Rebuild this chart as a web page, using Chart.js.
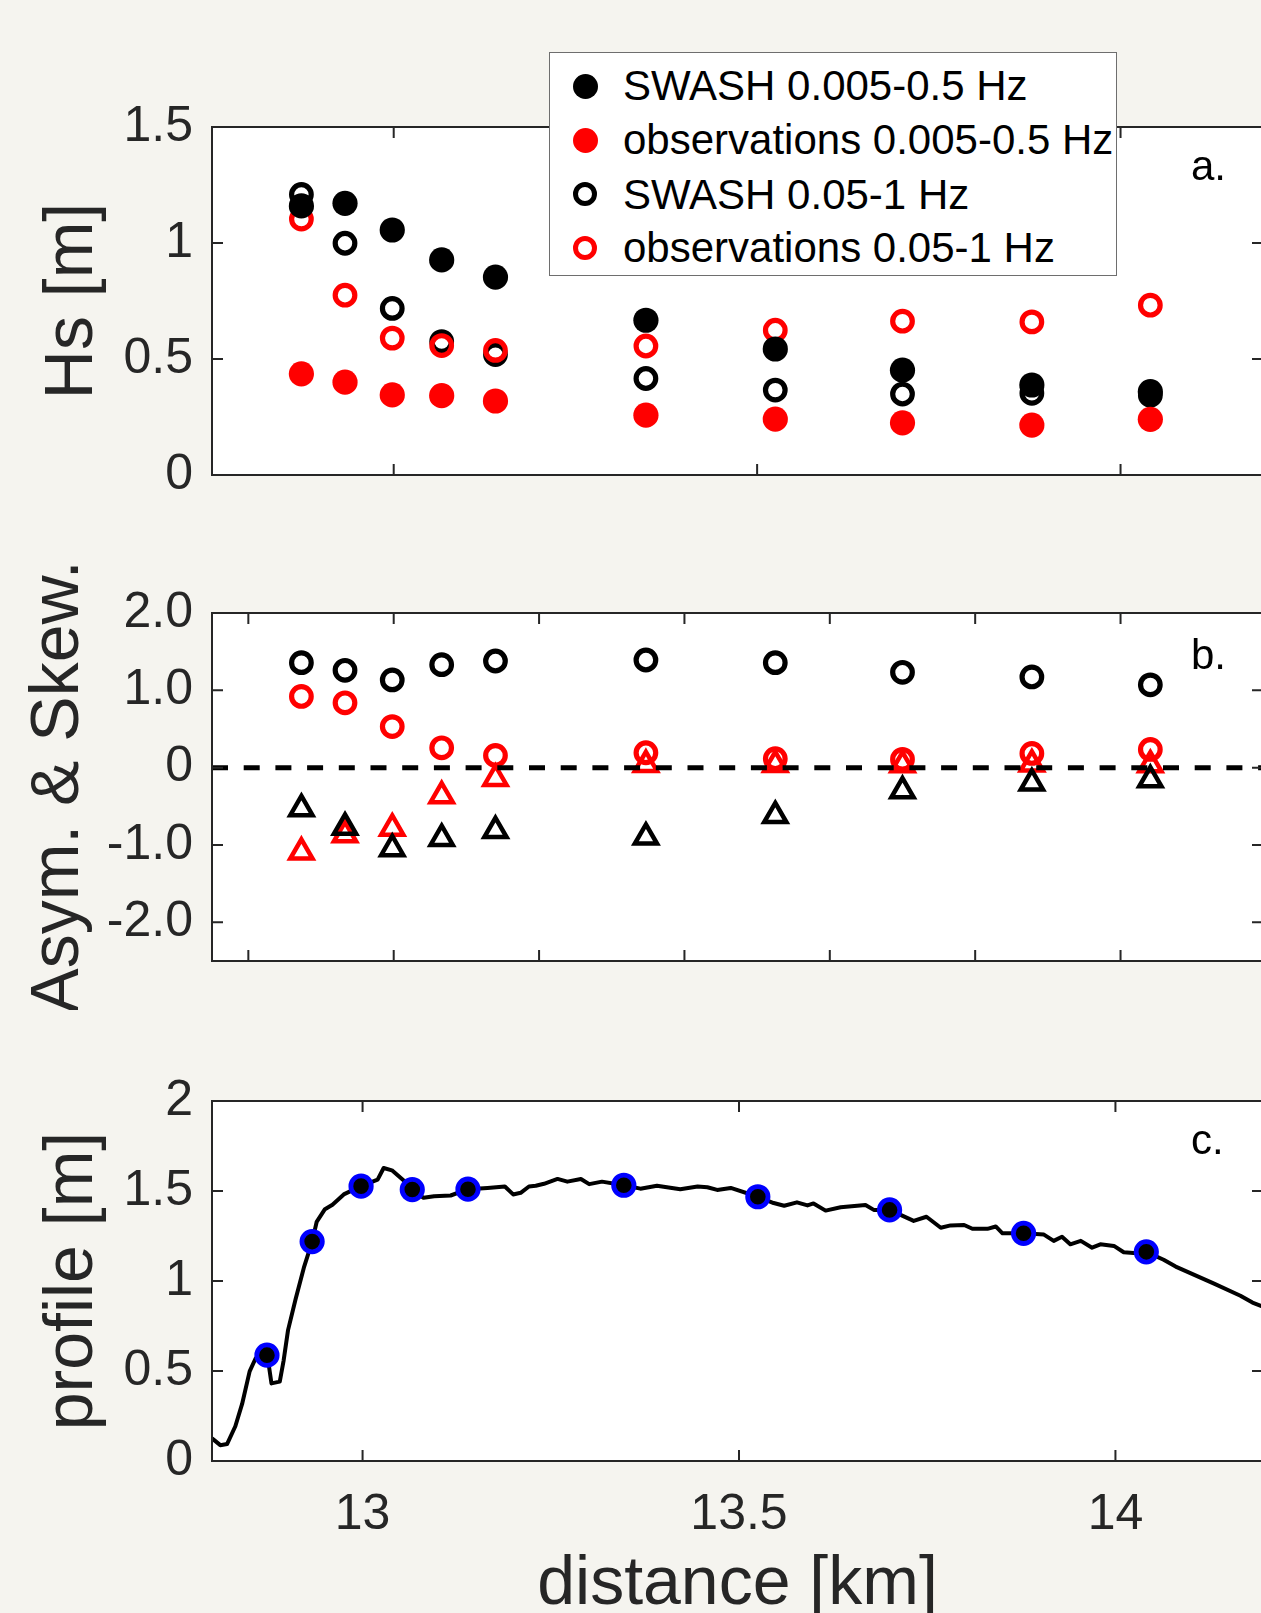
<!DOCTYPE html>
<html>
<head>
<meta charset="utf-8">
<title>SWASH vs observations</title>
<script src="https://cdn.jsdelivr.net/npm/chart.js@4.4.1/dist/chart.umd.min.js"></script>
<style>
  html, body { margin: 0; padding: 0; background: #f5f4ef; overflow: hidden; }
  #page { position: relative; width: 1261px; height: 1613px; overflow: hidden; }
  #page canvas { position: absolute; left: 0; }
  #legend {
    position: absolute; left: 549px; top: 52px; width: 566px; height: 222px;
    background: #fff; border: 1.5px solid #6e6e6e;
    font-family: 'Liberation Sans', Arial, Helvetica, sans-serif; font-size: 42px; color: #000;
  }
  #legend .row { position: absolute; left: 0; width: 100%; height: 54px; line-height: 54px; white-space: nowrap; }
  #legend .mk { position: absolute; left: 23px; top: 14.5px; width: 25px; height: 25px; border-radius: 50%; box-sizing: border-box; }
  #legend .txt { position: absolute; left: 73px; top: 0; }
</style>
</head>
<body>
<div id="page">
  <canvas id="panelA" width="1265" height="540" style="top:0px"></canvas>
  <canvas id="panelB" width="1265" height="470" style="top:540px"></canvas>
  <canvas id="panelC" width="1265" height="640" style="top:1010px"></canvas>
  <div id="legend">
    <div class="row" style="top:6px"><span class="mk" style="background:#000"></span><span class="txt">SWASH 0.005-0.5 Hz</span></div>
    <div class="row" style="top:60px"><span class="mk" style="background:#ff0000"></span><span class="txt">observations 0.005-0.5 Hz</span></div>
    <div class="row" style="top:114.5px"><span class="mk" style="border:5px solid #000;width:24px;height:24px"></span><span class="txt">SWASH 0.05-1 Hz</span></div>
    <div class="row" style="top:168px"><span class="mk" style="border:5px solid #ff0000;width:24px;height:24px"></span><span class="txt">observations 0.05-1 Hz</span></div>
  </div>
</div>
<script>
// gauge positions along the profile [km]
var sensorKm = [12.873, 12.933, 12.998, 13.066, 13.140, 13.347, 13.525, 13.700, 13.878, 14.041];

// a. significant wave height [m]
var hsSwashLow  = [1.160, 1.171, 1.056, 0.927, 0.853, 0.667, 0.543, 0.452, 0.388, 0.359];
var hsObsLow    = [0.436, 0.400, 0.345, 0.342, 0.319, 0.258, 0.241, 0.225, 0.215, 0.240];
var hsSwashHigh = [1.209, 0.999, 0.718, 0.575, 0.519, 0.416, 0.366, 0.349, 0.352, 0.344];
var hsObsHigh   = [1.103, 0.775, 0.590, 0.558, 0.537, 0.556, 0.624, 0.663, 0.660, 0.732];

// b. skewness (circles) and asymmetry (triangles)
var skewSwash = [1.358, 1.259, 1.135, 1.332, 1.379, 1.392, 1.358, 1.233, 1.173, 1.071];
var skewObs   = [0.921, 0.839, 0.531, 0.257, 0.158, 0.193, 0.116, 0.107, 0.184, 0.236];
var asymSwash = [-0.531, -0.771, -1.049, -0.916, -0.814, -0.899, -0.621, -0.300, -0.200, -0.158];
var asymObs   = [-1.092, -0.869, -0.784, -0.364, -0.141, 0.040, 0.040, 0.035, 0.045, 0.035];
var zeroLineKm = [12.75, 14.2];
var zeroLineY  = [0, 0];

// c. bed profile [m]
var profileKm = [12.800, 12.811, 12.820, 12.831, 12.840, 12.850, 12.858, 12.873, 12.876, 12.879,
  12.890, 12.895, 12.901, 12.911, 12.922, 12.933, 12.939, 12.950, 12.960, 12.975,
  12.998, 13.020, 13.028, 13.039, 13.055, 13.066, 13.081, 13.095, 13.117, 13.140,
  13.166, 13.189, 13.200, 13.210, 13.221, 13.230, 13.241, 13.259, 13.272, 13.290,
  13.301, 13.318, 13.347, 13.369, 13.391, 13.422, 13.445, 13.458, 13.471, 13.489,
  13.525, 13.546, 13.560, 13.577, 13.591, 13.599, 13.615, 13.635, 13.668, 13.679,
  13.700, 13.732, 13.749, 13.768, 13.781, 13.799, 13.810, 13.830, 13.841, 13.850,
  13.878, 13.905, 13.918, 13.929, 13.940, 13.954, 13.969, 13.980, 13.998, 14.011,
  14.024, 14.041, 14.064, 14.080, 14.131, 14.166, 14.182, 14.194, 14.200];
var profileM = [0.126, 0.088, 0.094, 0.193, 0.317, 0.498, 0.571, 0.588, 0.517, 0.431,
  0.441, 0.555, 0.727, 0.899, 1.074, 1.219, 1.328, 1.399, 1.424, 1.481,
  1.527, 1.563, 1.628, 1.615, 1.557, 1.508, 1.462, 1.471, 1.475, 1.510,
  1.517, 1.525, 1.481, 1.490, 1.525, 1.529, 1.540, 1.567, 1.552, 1.567,
  1.538, 1.552, 1.532, 1.513, 1.529, 1.510, 1.525, 1.521, 1.506, 1.517,
  1.468, 1.433, 1.418, 1.437, 1.420, 1.431, 1.391, 1.410, 1.422, 1.395,
  1.395, 1.334, 1.357, 1.296, 1.309, 1.311, 1.290, 1.290, 1.303, 1.265,
  1.265, 1.258, 1.223, 1.246, 1.204, 1.223, 1.185, 1.204, 1.195, 1.160,
  1.156, 1.162, 1.118, 1.080, 0.985, 0.918, 0.880, 0.861, 0.852];
var sensorBedM = [0.588, 1.219, 1.527, 1.508, 1.510, 1.532, 1.468, 1.395, 1.265, 1.162];

// axes ticks
var xTicksA = [13, 13.5, 14];
var xTicksB = [12.8, 13.0, 13.2, 13.4, 13.6, 13.8, 14.0];
var xTicksC = [13, 13.5, 14];
var xTickLabelsC = ['13', '13.5', '14'];
var yTicksA = [0, 0.5, 1, 1.5];
var yTickLabelsA = ['0', '0.5', '1', '1.5'];
var yTicksB = [-2, -1, 0, 1, 2];
var yTickLabelsB = ['-2.0', '-1.0', '0', '1.0', '2.0'];
var yTicksC = [0, 0.5, 1, 1.5, 2];
var yTickLabelsC = ['0', '0.5', '1', '1.5', '2'];

var INK = '#262626';
var RED = '#ff0000';
var BLUE = '#0000ff';
var X_MAX = 14.196;

Chart.defaults.font.family = "'Liberation Sans', Arial, Helvetica, sans-serif";
Chart.defaults.color = INK;
Chart.defaults.animation = false;

function pairs(xs, ys) {
  return xs.map(function (x, i) { return {x: x, y: ys[i]}; });
}

// white axes box, matlab style inward ticks and the panel letter
var framePlugin = {
  id: 'frame',
  beforeDraw: function (chart) {
    var a = chart.chartArea, ctx = chart.ctx;
    ctx.save();
    ctx.fillStyle = '#fff';
    ctx.fillRect(a.left, a.top, a.right - a.left, a.bottom - a.top);
    ctx.restore();
  },
  afterDraw: function (chart, args, opts) {
    var a = chart.chartArea, ctx = chart.ctx;
    var xs = chart.scales.x, ys = chart.scales.y;
    var len = 11;
    ctx.save();
    ctx.strokeStyle = INK;
    ctx.lineWidth = 2;
    ctx.beginPath();
    xs.ticks.forEach(function (t) {
      var px = xs.getPixelForValue(t.value);
      ctx.moveTo(px, a.bottom); ctx.lineTo(px, a.bottom - len);
      ctx.moveTo(px, a.top); ctx.lineTo(px, a.top + len);
    });
    ys.ticks.forEach(function (t) {
      var py = ys.getPixelForValue(t.value);
      ctx.moveTo(a.left, py); ctx.lineTo(a.left + len, py);
      ctx.moveTo(a.right, py); ctx.lineTo(a.right - len, py);
    });
    ctx.stroke();
    ctx.strokeRect(a.left, a.top, a.right - a.left, a.bottom - a.top);
    ctx.fillStyle = '#000';
    ctx.font = "42px 'Liberation Sans', Arial, sans-serif";
    ctx.textBaseline = 'alphabetic';
    ctx.fillText(opts.letter, 1191, a.top + opts.dy);
    ctx.restore();
  }
};

function marker(kind, color) {
  if (kind === 'dot') {
    return {pointStyle: 'circle', pointRadius: 12.6, pointBorderWidth: 0,
            pointBackgroundColor: color, pointBorderColor: color};
  }
  if (kind === 'ring') {
    return {pointStyle: 'circle', pointRadius: 9.8, pointBorderWidth: 5.2,
            pointBackgroundColor: 'rgba(0,0,0,0)', pointBorderColor: color};
  }
  return {pointStyle: 'triangle', pointRadius: 12.8, pointBorderWidth: 4.5,
          pointBackgroundColor: 'rgba(0,0,0,0)', pointBorderColor: color};
}

function scatterSet(label, values, kind, color, order) {
  return Object.assign({
    label: label,
    order: order,
    data: pairs(sensorKm, values),
    showLine: false
  }, marker(kind, color));
}

function makePanel(id, cfg) {
  var canvas = document.getElementById(id);
  return new Chart(canvas.getContext('2d'), {
    type: 'scatter',
    data: {datasets: cfg.datasets},
    plugins: [framePlugin],
    options: {
      responsive: false,
      devicePixelRatio: 1,
      events: [],
      layout: {autoPadding: false, padding: {top: cfg.padTop, left: 0, right: 2, bottom: 0}},
      plugins: {
        legend: {display: false},
        tooltip: {enabled: false},
        frame: {letter: cfg.letter, dy: cfg.letterDy}
      },
      scales: {
        x: {
          type: 'linear',
          min: cfg.xMin, max: X_MAX,
          afterBuildTicks: function (s) { s.ticks = cfg.xTicks.map(function (v) { return {value: v}; }); },
          afterFit: function (s) { s.height = cfg.xHeight; },
          grid: {display: false, drawTicks: false},
          border: {display: false},
          ticks: {
            display: !!cfg.xLabels,
            padding: 24,
            font: {size: 50},
            color: INK,
            maxRotation: 0,
            callback: function (v, i) { return cfg.xLabels ? cfg.xLabels[i] : ''; }
          },
          title: cfg.xTitle ? {display: true, text: cfg.xTitle, font: {size: 68}, color: INK, padding: {top: 0, bottom: 24}} : {display: false}
        },
        y: {
          type: 'linear',
          min: cfg.yMin, max: cfg.yMax,
          afterBuildTicks: function (s) { s.ticks = cfg.yTicks.map(function (v) { return {value: v}; }); },
          afterFit: function (s) { s.width = 212; },
          grid: {display: false, drawTicks: false},
          border: {display: false},
          ticks: {
            padding: 19,
            font: {size: 50},
            color: INK,
            callback: function (v, i) { return cfg.yLabels[i]; }
          },
          title: {display: true, text: cfg.yTitle, font: {size: 68}, color: INK, padding: {top: cfg.yTitlePad, bottom: 0}}
        }
      }
    }
  });
}

makePanel('panelA', {
  padTop: 127, xHeight: 65, xMin: 12.75, xTicks: xTicksA,
  yMin: 0, yMax: 1.5, yTicks: yTicksA, yLabels: yTickLabelsA,
  yTitle: 'Hs [m]', yTitlePad: 32, letter: 'a.', letterDy: 53,
  datasets: [
    scatterSet('SWASH 0.005-0.5 Hz', hsSwashLow, 'dot', '#000', 2),
    scatterSet('observations 0.005-0.5 Hz', hsObsLow, 'dot', RED, 1),
    scatterSet('SWASH 0.05-1 Hz', hsSwashHigh, 'ring', '#000', 4),
    scatterSet('observations 0.05-1 Hz', hsObsHigh, 'ring', RED, 3)
  ]
});

makePanel('panelB', {
  padTop: 73, xHeight: 47, xMin: 12.75, xTicks: xTicksB,
  yMin: -2.5, yMax: 2.0, yTicks: yTicksB, yLabels: yTickLabelsB,
  yTitle: 'Asym. & Skew.', yTitlePad: 18.5, letter: 'b.', letterDy: 55.5,
  datasets: [
    {
      label: 'zero', order: 0, data: pairs(zeroLineKm, zeroLineY), showLine: true,
      borderColor: '#000', borderWidth: 5, borderDash: [16, 15.7], pointRadius: 0
    },
    scatterSet('SWASH skewness', skewSwash, 'ring', '#000', 1),
    scatterSet('SWASH asymmetry', asymSwash, 'tri', '#000', 2),
    scatterSet('observed skewness', skewObs, 'ring', RED, 3),
    scatterSet('observed asymmetry', asymObs, 'tri', RED, 4)
  ]
});

makePanel('panelC', {
  padTop: 91, xHeight: 189, xMin: 12.8, xTicks: xTicksC, xLabels: xTickLabelsC,
  xTitle: 'distance [km]',
  yMin: 0, yMax: 2, yTicks: yTicksC, yLabels: yTickLabelsC,
  yTitle: 'profile [m]', yTitlePad: 32, letter: 'c.', letterDy: 52.5,
  datasets: [
    Object.assign({label: 'gauges', order: 1, data: pairs(sensorKm, sensorBedM), showLine: false},
      {pointStyle: 'circle', pointRadius: 10.2, pointBorderWidth: 4.8,
       pointBackgroundColor: '#000', pointBorderColor: BLUE}),
    {
      label: 'profile', order: 2, data: pairs(profileKm, profileM), showLine: true,
      borderColor: '#000', borderWidth: 4, borderJoinStyle: 'round', tension: 0, pointRadius: 0
    }
  ]
});
</script>
</body>
</html>
